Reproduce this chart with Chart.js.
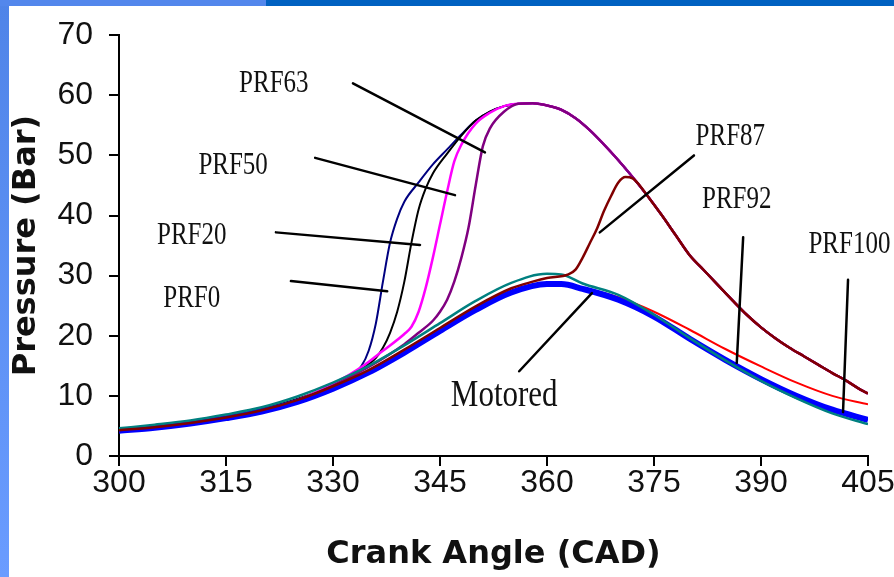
<!DOCTYPE html>
<html>
<head>
<meta charset="utf-8">
<script src="https://cdn.jsdelivr.net/npm/chart.js@4.4.1/dist/chart.umd.min.js"></script>
<style>
  html, body { margin: 0; padding: 0; background: #fff; overflow: hidden; }
  #wrap { position: relative; width: 894px; height: 577px; }
  .bar-left { position: absolute; left: 0; top: 0; width: 9px; height: 577px; background: linear-gradient(#4f84e8, #6a9cff); }
  .bar-top1 { position: absolute; left: 0; top: 0; width: 266px; height: 6px; background: #5387ec; }
  .bar-top2 { position: absolute; left: 266px; top: 0; width: 628px; height: 6px; background: #0061c1; }
  canvas { position: absolute; left: 0; top: 0; }
</style>
</head>
<body>
<div id="wrap">
  <div class="bar-left"></div>
  <div class="bar-top1"></div>
  <div class="bar-top2"></div>
  <canvas id="myChart" width="894" height="577"></canvas>
</div>
<script>
// crank angle samples (CAD) and pressures (bar)
const cadMotored = [300, 305, 310, 315, 320, 325, 330, 335, 340, 345, 350, 355, 360, 362, 365, 370, 375, 380, 385, 390, 395, 400, 405];
const motored    = [4.2, 4.7, 5.4, 6.3, 7.4, 9.0, 11.2, 13.9, 17.2, 20.8, 24.3, 27.2, 28.6, 28.6, 27.8, 26.0, 23.2, 19.5, 16.0, 12.8, 10.0, 7.7, 6.0];
const prf100     = [4.6, 5.2, 5.9, 6.9, 8.1, 9.9, 12.2, 15.0, 18.4, 22.1, 25.8, 28.8, 30.3, 30.2, 28.7, 26.8, 23.5, 19.6, 15.9, 12.5, 9.6, 7.1, 5.3];
const prf92      = [4.3, 4.8, 5.5, 6.4, 7.5, 9.1, 11.3, 14.0, 17.3, 20.9, 24.4, 27.3, 28.7, 28.7, 28.0, 26.4, 24.0, 21.0, 17.8, 14.9, 12.2, 10.0, 8.6];

// shared expansion curve after the peak (PRF0..PRF87)
const cadDecay = [356, 358, 360, 362, 364, 366, 368, 370, 372, 374, 376, 378, 380, 382, 384, 386, 388, 390, 392, 394, 396, 398, 400, 402, 404, 405];
const decay    = [58.6, 58.7, 58.3, 57.6, 56.2, 54.2, 51.8, 49.2, 46.4, 43.4, 40.2, 36.8, 33.4, 30.9, 28.4, 25.9, 23.5, 21.4, 19.6, 18.0, 16.6, 15.2, 13.8, 12.5, 11.0, 10.4];

const cadPrf0 = [300, 305, 310, 315, 320, 325, 330, 332, 334, 335, 336, 337, 338, 339, 340, 342, 344, 346, 348, 350, 352, 354];
const prf0    = [4.4, 4.9, 5.6, 6.5, 7.8, 9.4, 11.6, 12.9, 15.0, 17.5, 22.0, 29.0, 35.5, 39.5, 42.3, 45.5, 48.5, 51.0, 53.5, 55.8, 57.3, 58.2];

const cadPrf20 = [300, 305, 310, 315, 320, 325, 330, 333, 336, 337, 338, 339, 340, 341, 342, 343, 344, 346, 348, 350, 352, 354];
const prf20    = [4.4, 4.9, 5.6, 6.5, 7.8, 9.5, 11.8, 13.8, 16.3, 18.0, 20.5, 24.0, 29.0, 35.5, 41.0, 44.5, 47.0, 50.3, 53.3, 55.8, 57.3, 58.2];

const cadPrf50 = [300, 305, 310, 315, 320, 325, 330, 334, 337, 340, 341, 342, 343, 344, 345, 346, 347, 348, 350, 352, 354];
const prf50    = [4.3, 4.8, 5.5, 6.4, 7.6, 9.3, 12.0, 14.8, 17.5, 20.3, 21.5, 24.0, 28.0, 33.0, 38.5, 44.0, 49.0, 51.8, 55.3, 57.1, 58.2];

const cadPrf63 = [300, 305, 310, 315, 320, 325, 330, 335, 340, 342, 344, 345, 346, 347, 348, 349, 350, 351, 352, 354];
const prf63    = [4.3, 4.8, 5.5, 6.4, 7.6, 9.2, 11.7, 14.8, 18.6, 20.5, 22.5, 24.0, 26.0, 29.0, 33.0, 38.0, 45.0, 51.5, 54.5, 57.3];

const cadPrf87 = [300, 305, 310, 315, 320, 325, 330, 335, 340, 345, 350, 355, 358, 360, 363, 364, 365, 366, 367, 368, 369, 370, 371, 372, 373];
const prf87    = [4.3, 4.8, 5.5, 6.4, 7.6, 9.3, 11.6, 14.3, 17.7, 21.3, 24.9, 27.9, 29.0, 29.6, 30.2, 31.0, 33.0, 35.4, 37.8, 40.8, 43.3, 45.5, 46.4, 46.2, 45.0];

const xTicks = [300, 315, 330, 345, 360, 375, 390, 405];

// labels and their leader lines, in data units [cad, bar]
const labels = [
    { text: 'PRF63', at: [321.7, 62.3], from: [332.8, 62.0], to: [351.3, 50.5] },
    { text: 'PRF50', at: [316.0, 48.7], from: [327.5, 49.6], to: [347.1, 43.4] },
    { text: 'PRF20', at: [310.2, 37.1], from: [322.0, 37.2], to: [342.2, 35.1] },
    { text: 'PRF0',  at: [310.2, 26.6], from: [324.1, 29.1], to: [337.6, 27.4] },
    { text: 'PRF87', at: [385.7, 53.6], from: [380.6, 50.0], to: [367.4, 37.2] },
    { text: 'PRF92', at: [386.6, 43.1], from: [387.5, 36.4], to: [386.6, 15.5] },
    { text: 'PRF100', at: [402.4, 35.5], from: [402.2, 29.3], to: [401.5, 7.3] },
    { text: 'Motored', at: [354.0, 10.4], from: [366.3, 27.1], to: [356.1, 14.1], big: true }
];

function pts(xs, ys) {
    return xs.map(function(x, i) { return { x: x, y: ys[i] }; });
}

function withDecay(xs, ys) {
    return pts(xs.concat(cadDecay), ys.concat(decay));
}

function withDecayAfter(xs, ys, start) {
    const dx = cadDecay.filter(function(c) { return c >= start; });
    const dy = decay.slice(cadDecay.length - dx.length);
    return pts(xs.concat(dx), ys.concat(dy));
}

const labelPlugin = {
    id: 'labelPlugin',
    afterDatasetsDraw(chart) {
        const ctx = chart.ctx;
        const xs = chart.scales.x;
        const ys = chart.scales.y;
        ctx.save();
        ctx.strokeStyle = '#000';
        ctx.lineWidth = 2.5;
        ctx.lineCap = 'round';
        labels.forEach(function(l) {
            ctx.beginPath();
            ctx.moveTo(xs.getPixelForValue(l.from[0]), ys.getPixelForValue(l.from[1]));
            ctx.lineTo(xs.getPixelForValue(l.to[0]), ys.getPixelForValue(l.to[1]));
            ctx.stroke();
        });
        ctx.fillStyle = '#111';
        ctx.textAlign = 'center';
        ctx.textBaseline = 'alphabetic';
        labels.forEach(function(l) {
            const size = l.big ? 31 : 25;
            const sy = l.big ? 1.2 : 1.3;
            const px = xs.getPixelForValue(l.at[0]);
            const py = ys.getPixelForValue(l.at[1]);
            ctx.save();
            ctx.translate(px, py + 0.331 * size * sy);
            ctx.scale(1, sy);
            ctx.font = size + 'px "Liberation Serif", "Times New Roman", serif';
            ctx.fillText(l.text, 0, 0);
            ctx.restore();
        });
        ctx.restore();
    }
};

document.addEventListener("DOMContentLoaded", function() {
    const ctx = document.getElementById('myChart').getContext('2d');

    const data = {
        datasets: [
            { label: 'PRF87', data: withDecayAfter(cadPrf87, prf87, 374), borderColor: '#800000', borderWidth: 2.5 },
            { label: 'PRF100', data: pts(cadMotored, prf100), borderColor: '#008080', borderWidth: 2.5 },
            { label: 'Motored', data: pts(cadMotored, motored), borderColor: '#0000ff', borderWidth: 6 },
            { label: 'PRF92', data: pts(cadMotored, prf92), borderColor: '#ff0000', borderWidth: 2 },
            { label: 'PRF63', data: withDecay(cadPrf63, prf63), borderColor: '#800080', borderWidth: 2.5 },
            { label: 'PRF50', data: withDecay(cadPrf50, prf50), borderColor: '#ff00ff', borderWidth: 2.5 },
            { label: 'PRF20', data: withDecay(cadPrf20, prf20), borderColor: '#000000', borderWidth: 2 },
            { label: 'PRF0', data: withDecay(cadPrf0, prf0), borderColor: '#000080', borderWidth: 2 }
        ]
    };

    const options = {
        responsive: false,
        animation: false,
        devicePixelRatio: 1,
        layout: { padding: { top: 35, right: 26, bottom: 0, left: 0 } },
        elements: {
            point: { radius: 0 },
            line: { tension: 0, cubicInterpolationMode: 'monotone', fill: false }
        },
        plugins: { legend: { display: false }, tooltip: { enabled: false } },
        scales: {
            x: {
                type: 'linear',
                min: 300,
                max: 405,
                afterBuildTicks: function(scale) {
                    scale.ticks = xTicks.map(function(v) { return { value: v }; });
                },
                afterFit: function(scale) {
                    scale.height = 121;
                    scale.paddingLeft = 0;
                    scale.paddingRight = 0;
                },
                grid: { drawOnChartArea: false, drawTicks: true, tickLength: 10, color: '#000', lineWidth: 2 },
                border: { display: true, color: '#000', width: 2 },
                ticks: { color: '#111', padding: -2, maxRotation: 0, font: { family: '"Liberation Sans", Arial, sans-serif', size: 32 } },
                title: {
                    display: true,
                    text: 'Crank Angle (CAD)',
                    color: '#111',
                    padding: { top: 0, bottom: 3 },
                    font: { family: '"DejaVu Sans", sans-serif', size: 32, weight: 'bold' }
                }
            },
            y: {
                min: 0,
                max: 70,
                afterFit: function(scale) { scale.width = 119; },
                grid: { drawOnChartArea: false, drawTicks: true, tickLength: 10, color: '#000', lineWidth: 2 },
                border: { display: true, color: '#000', width: 2 },
                ticks: { stepSize: 10, color: '#111', padding: 16, font: { family: '"Liberation Sans", Arial, sans-serif', size: 32 } },
                title: {
                    display: true,
                    text: 'Pressure (Bar)',
                    color: '#111',
                    padding: { top: 7, bottom: 0 },
                    font: { family: '"DejaVu Sans", sans-serif', size: 32, weight: 'bold' }
                }
            }
        }
    };

    const myChart = new Chart(ctx, {
        type: 'line',
        data: data,
        options: options,
        plugins: [labelPlugin]
    });
});
</script>
</body>
</html>
